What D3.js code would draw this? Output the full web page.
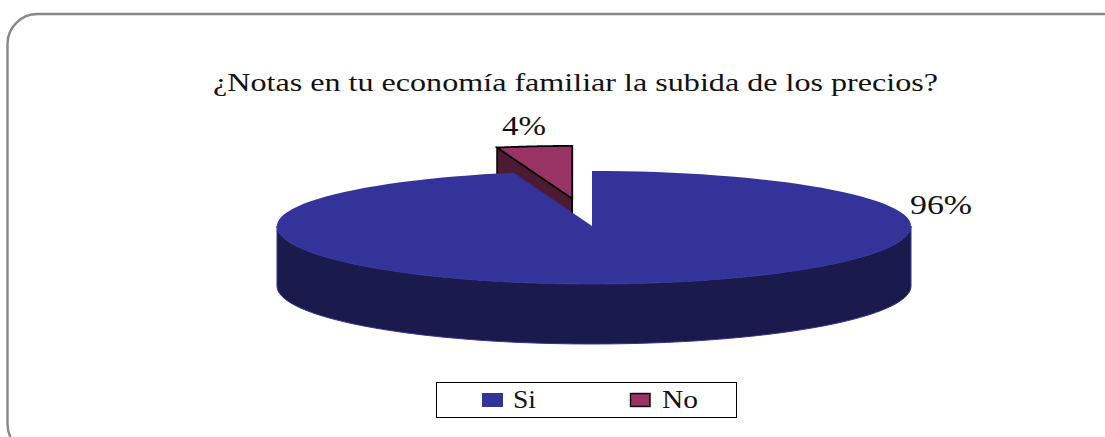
<!DOCTYPE html>
<html><head><meta charset="utf-8">
<script src="https://cdn.jsdelivr.net/npm/d3@7"></script>
<style>html,body{margin:0;padding:0;background:#fff;overflow:hidden}svg{display:block}
text{font-family:"Liberation Serif",serif;fill:#111}</style></head>
<body><svg id="c" width="1105" height="437"></svg>
<script>
const categories = ["Si", "No"];
const values = [96, 4];
const titleText = "¿Notas en tu economía familiar la subida de los precios?";
const topColors = ["#333399", "#993366"];
const sideColors = ["#1a1a4d", "#4d1a33"];

const svg = d3.select("#c");
svg.append("rect").attr("x",7.5).attr("y",14).attr("width",1125).attr("height",440).attr("rx",30)
  .attr("fill","#fff").attr("stroke","#888").attr("stroke-width",2.4);

const pie = d3.pie().sort(null).value(d=>d);
const arcs = pie(values);
const cx = 592, cy = 226, depth = 60, explode = 0.5, noScale = 0.96;
// unit-circle to screen: flattened pie as in a tilted 3D view
const sx = d3.scaleLinear().domain([-1,0,1]).range([cx-315,cx,cx+319]);
const sy = d3.scaleLinear().domain([-1,0,1]).range([cy-55,cy,cy+58]);
const px = a => Math.sin(a), py = a => -Math.cos(a);
const line = d3.line();
const rim = (a0,a1,dx,dy,dep=0,k=1) => d3.range(0,121).map(i=>{
  const a=a0+(a1-a0)*i/120; return [sx(px(a)*k)+dx, sy(py(a)*k)+dy+dep];});

const offs = arcs.map((d,i)=>{
  if(i===0) return [0,0];
  const m=(d.startAngle+d.endAngle)/2;
  return [sx(px(m)*explode)-cx, sy(py(m)*explode)-cy];
});

// exploded slice: inner wall, then top
{
  const d=arcs[1],[dx,dy]=offs[1];
  const apex=[cx+dx,cy+dy], p0=[sx(px(d.startAngle)*noScale)+dx, sy(py(d.startAngle)*noScale)+dy];
  svg.append("path").attr("d",line([apex,p0,[p0[0],p0[1]+depth],[apex[0],apex[1]+depth]])+"Z")
    .attr("fill",sideColors[1]).attr("stroke","#000").attr("stroke-width",1.6);
  const r=rim(d.startAngle,d.endAngle,dx,dy,0,noScale);
  svg.append("path").attr("d",line([apex,...r])+"Z")
    .attr("fill",topColors[1]).attr("stroke","#000").attr("stroke-width",1.8).attr("stroke-linejoin","miter");
}
// main slice: outer wall, then top
{
  const d=arcs[0];
  const low=rim(Math.PI/2,3*Math.PI/2,0,0);
  const up=rim(3*Math.PI/2,Math.PI/2,0,0,depth);
  svg.append("path").attr("d",line([...low,...up])+"Z")
    .attr("fill",sideColors[0]).attr("stroke",topColors[0]).attr("stroke-width",1);
  svg.append("path").attr("d",line([[cx,cy],...rim(d.startAngle,d.endAngle,0,0)])+"Z")
    .attr("fill",topColors[0]);
}

svg.append("text").attr("x",213).attr("y",91).attr("font-size",26)
  .attr("textLength",725).attr("lengthAdjust","spacingAndGlyphs").text(titleText);

const fmt = v => v + "%";
svg.append("text").attr("x",502).attr("y",135).attr("font-size",28)
  .attr("textLength",44).attr("lengthAdjust","spacingAndGlyphs").text(fmt(values[1]));
svg.append("text").attr("x",910).attr("y",214).attr("font-size",28)
  .attr("textLength",62).attr("lengthAdjust","spacingAndGlyphs").text(fmt(values[0]));

// legend
svg.append("rect").attr("x",436.5).attr("y",382.5).attr("width",300).attr("height",35)
  .attr("fill","#fff").attr("stroke","#000").attr("stroke-width",1);
const swX=[482,630.5], txX=[513,662], txW=[23,36];
categories.forEach((c,i)=>{
  svg.append("rect").attr("x",swX[i]).attr("y",i?393.5:393).attr("width",i?19.5:21).attr("height",i?13:14)
    .attr("fill",topColors[i]).attr("stroke",i?"#000":"none").attr("stroke-width",1.4);
  svg.append("text").attr("x",txX[i]).attr("y",408).attr("font-size",25)
    .attr("textLength",txW[i]).attr("lengthAdjust","spacingAndGlyphs").text(c);
});
</script></body></html>
